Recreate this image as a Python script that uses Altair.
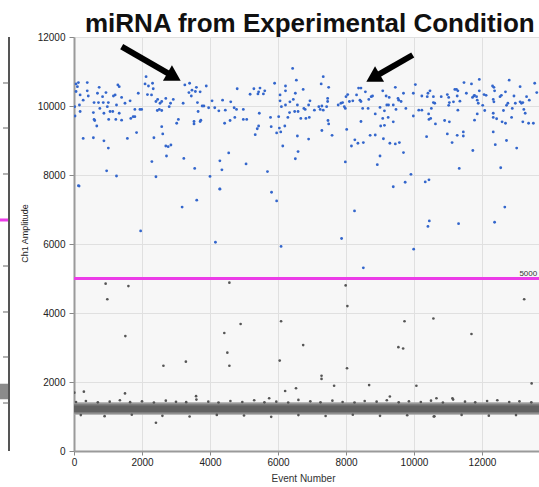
import altair as alt
import pandas as pd

# ---------------- data ----------------
blue_1 = [(60,10640),(130,10680),(100,10560),(60,10420),(180,10320),(270,10170),(160,10030),(20,9980),(30,9710),(180,9840),
          (390,10680),(390,10440),(420,10290),(590,10100),(720,10100),(740,10540),(690,10370),(760,9930),(570,9810),(590,9610),
          (610,9580),(670,9420),(840,10270),(860,10100),(1010,10100),(980,9980),(940,10390),(880,9790),(1060,9840),(1140,9840),
          (1230,9610),(1020,9610),(1160,10290),(1210,10320),(1290,10610),(1330,10560),(1400,10250),(1330,9790),(1250,10030),(1400,9590),
          (1500,10080),(1650,10150),(1670,9640),(1740,9690),(1790,9690),(1890,10370),(1840,9230),(1940,9900),(1990,9900),(1790,9900),
          (270,9060),(570,9080),(880,8990),(1010,8780),(1570,9060),(960,8120),(1250,7970),(130,7690),(2120,10850),(2090,10640),
          (2190,10580),(2310,10660),(2330,10500),(2280,10320),(2160,10330),(2410,10130),(2460,10190),(2530,10080),(2580,10130),(2510,9900),
          (2450,9870),(2580,9870),(2700,10220),(2800,9980),(2840,10080),(2920,10190),(3070,9610),(3020,9500),(2580,9400),(2610,9190),
          (2350,9080),(2700,8840),(2770,8820),(2850,8870),(2720,8550),(3230,8480),(2290,8390),(2410,7950),(3210,10080),(3260,10610),
          (3380,10390)]
blue_2 = [(3400,10660),(3470,10460),(3600,10540),(3570,10420),(3450,10290),(3710,10410),(3890,10580),(3630,10100),(3770,10000),(3820,10000),
          (3650,9840),(3530,9550),(3530,9480),(3730,9590),(3710,9550),(3960,9950),(4060,10150),(4140,9950),(4260,9860),(4370,10170),
          (4450,9880),(4430,9500),(4610,10120),(4590,9580),(4710,9950),(4730,9670),(4800,10500),(4780,9900),(4980,9900),(4980,9610),
          (5080,9610),(5180,10340),(5290,10500),(5430,10410),(5470,10520),(5410,10350),(5570,10350),(5610,10440),(5450,9790),(5430,9420),
          (5390,9340),(5330,9170),(5780,9670),(5800,9400),(5900,10660),(6020,9690),(6040,9360),(6080,9250),(5960,9220),(6060,10320),
          (6060,10150),(6220,10580),(6220,10440),(6100,9980),(6220,10030),(6350,10120),(6450,10190),(6510,10370),(6570,10030),(6430,11090),
          (6540,10750),(6740,10480),(6760,9930),(6590,9840),(6490,9840),(6290,9670),(6340,9810),(6200,9420),(6670,9640),(6820,9640),
          (6800,9900),(6570,9130),(6140,8840),(6590,8680),(6510,8470),(4550,8640),(4290,8410),(4350,8150),(3550,8190),(5060,8320),
          (5690,8100),(4000,7960),(4290,7600)]
blue_3 = [(7330,10850),(7270,10640),(7490,10540),(6940,10150),(6900,10030),(7200,9980),(7240,9900),(7290,10000),(7330,9880),(7430,9980),
          (7460,10220),(7460,10130),(7070,9880),(6920,9670),(7470,9580),(7490,9480),(7290,9290),(7590,9150),(6900,9040),(7770,10030),
          (7850,10080),(7900,10100),(7950,9980),(7980,9930),(8000,10270),(8050,10330),(8100,10130),(8200,10150),(8310,10320),(8370,10520),
          (8440,10520),(8410,10170),(8440,10130),(8490,9930),(8570,10410),(8670,10190),(8740,10270),(8780,10290),(8650,9930),(8440,9550),
          (8860,9770),(9000,9960),(9080,10440),(9130,9860),(9180,10290),(9270,10250),(9390,10030),(9250,10030),(9200,10030),(9450,10540),
          (9550,10170),(9530,10220),(9620,10130),(9690,10370),(9760,9930),(9470,9900),(9080,9640),(9240,9670),(9390,9540),(9130,9440),
          (9020,9420),(8860,9160),(8710,9150),(9100,9050),(8260,9020),(8350,8920),(8510,8940),(8160,8840),(8020,9320),(9290,8920),
          (9450,8900),(9570,8940),(9690,8650),(9000,8550),(8920,8300),(7980,8380),(9980,10370),(10040,10620),(10230,10290),(10140,9880),
          (10230,9880),(9980,9710),(9910,8020),(9740,7790),(9390,7660)]
blue_4 = [(10410,10370),(10470,10440),(10390,10270),(10570,10270),(10570,10100),(10610,10080),(10510,9930),(10430,9770),(10440,9610),(10490,9640),
          (10630,9480),(10370,9110),(10800,10270),(10900,9580),(10980,10330),(11020,10250),(11040,10100),(11020,10020),(11160,10120),(11200,10480),
          (11250,10480),(11290,10440),(11270,10290),(11350,10140),(11290,9880),(11470,10680),(11540,10370),(11690,10640),(11720,10250),(11760,10290),
          (11780,10310),(11840,10270),(11860,10170),(11890,10080),(11920,10770),(11920,10440),(12020,10020),(12060,10330),(12120,10310),(12080,9870),
          (11860,9770),(11780,9590),(11040,9540),(10980,9190),(11120,8940),(11270,9150),(11450,9250),(11450,9130),(11730,8710),(11330,8190),
          (12350,10540),(12310,10580),(12370,10440),(12330,10190),(12350,10120),(12330,9790),(12330,9670),(12430,9630),(12530,10270),(12570,10310),
          (12690,10410),(12590,9540),(12690,9500),(12630,9870),(12720,10020),(12760,10080),(12800,10750),(12890,9930),(12940,10290),(12870,9670),
          (12980,10080),(13120,10560),(13120,10120),(13160,10080),(13200,10100),(13230,9900),(13270,9790),(13390,10170),(13310,10270),(13200,9540),
          (13370,9500),(13510,9500),(13550,10660),(13610,10390),(12330,9250),(12390,8880),(12720,9000),(13020,8780),(12550,8210),(10440,7860),
          (10330,7800)]
blue_low = [(150,7680),(4290,7590),(3180,7070),(3610,7270),(1960,6380),(5810,7500),(5960,7250),(4160,6050),(6090,5930),(8250,6960),
            (7870,6160),(8510,5310),(10450,6670),(10410,6510),(11310,6590),(12370,6630),(12670,7070),(9990,5850)]

gray_scatter = [(930,4850),(1600,4780),(980,4400),(4570,4880),(1510,3330),(4900,3680),(4420,3420),(6090,3760),(4510,2850),(2630,2470),
                (3290,2590),(4570,2470),(6050,2620),(6740,3070),(7990,4800),(8040,4200),(9720,3760),(10570,3840),(9540,3010),(9680,2970),
                (11690,3390),(13240,4400),(8030,2400),(7280,2180),(7280,2090),(290,1720),(1500,1670),(3590,1590),(5740,1530),(6210,1740),
                (6530,1820),(7650,1890),(8680,1910),(10070,1890),(13460,1960),(2410,820),(10580,1000),(9290,1580),(10660,1530),(11130,1530),
                (10,1690)]
band_top_x = [60,350,700,1050,1350,1650,2000,2350,2700,3000,3300,3600,3950,4250,4600,4950,5300,5600,5950,6300,6600,
              6950,7250,7600,7900,8250,8550,8900,9200,9550,9850,10200,10500,10850,11150,11500,11800,12150,12450,12800,13100,13450]
band_top_y = [1420,1450,1410,1430,1470,1415,1440,1405,1460,1425,1415,1490,1430,1405,1450,1420,1470,1410,1430,1405,1480,
              1440,1410,1460,1420,1405,1450,1430,1470,1410,1440,1420,1460,1405,1490,1430,1410,1450,1470,1420,1440,1410]
band_bot_x = [200,900,1700,2600,3400,4200,5000,5800,6600,7400,8200,9000,9800,10600,11400,12200,13000]
band_bot_y = [1040,1010,1050,1020,1000,1045,1030,990,1040,1015,1050,1020,1035,1005,1045,1025,1040]

band_outer = (1050, 1410)
band_mid = (1090, 1370)
band_core = (1130, 1320)

threshold = 5000
threshold_label = "5000"
x_ticks = [0, 2000, 4000, 6000, 8000, 10000, 12000]
y_ticks = [0, 2000, 4000, 6000, 8000, 10000, 12000]
title_text = "miRNA from Experimental Condition"

arrow_tails = [(1403, 11719), (9962, 11478)]
arrow_ends = [(2832, 10907), (8903, 10878)]
arrow_tips = [(3138, 10733), (8597, 10704)]
arrow_angles = [30, 150]

# neighbouring panel fragment (left edge)
left_ticks = [10667, 9362, 8029, 6696, 5362, 4029, 2725, 1391]
left_threshold = 6696
left_band = (1500, 1950)

X_MAX = 13676
Y_MAX = 12000

BLUE = "#3366cc"
GRAY = "#555555"
MAGENTA = "#ec3ce8"

# ---------------- frames ----------------
blue_df = pd.DataFrame(blue_1 + blue_2 + blue_3 + blue_4 + blue_low, columns=["x", "y"])
gray_df = pd.DataFrame(gray_scatter + list(zip(band_top_x, band_top_y)) + list(zip(band_bot_x, band_bot_y)),
                       columns=["x", "y"])
band_df = pd.DataFrame({"x": [0, 0, 0], "x2": [X_MAX] * 3,
                        "y": [band_outer[0], band_mid[0], band_core[0]],
                        "y2": [band_outer[1], band_mid[1], band_core[1]],
                        "lvl": ["outer", "mid", "core"]})
arrow_df = pd.DataFrame({"x": [t[0] for t in arrow_tails], "y": [t[1] for t in arrow_tails],
                         "x2": [e[0] for e in arrow_ends], "y2": [e[1] for e in arrow_ends]})
head_df = pd.DataFrame({"x": [t[0] for t in arrow_tips], "y": [t[1] for t in arrow_tips], "a": arrow_angles})

xs = alt.Scale(domain=[0, X_MAX], nice=False, zero=False)
ys = alt.Scale(domain=[0, Y_MAX], nice=False, zero=False)

x_axis = alt.Axis(values=x_ticks, title="Event Number", grid=True, gridColor="#e0e0e0",
                  domainColor="#9a9a9a", domainWidth=2, tickColor="#888", tickSize=4,
                  labelFont="Liberation Sans", labelFontSize=10, labelColor="#222", labelPadding=2,
                  labelFlush=False, format="d",
                  titleFont="Liberation Sans", titleFontSize=10, titleFontWeight="normal",
                  titleColor="#333", titleX=229, titleY=27, titleBaseline="middle")
y_axis = alt.Axis(values=y_ticks, title="Ch1 Amplitude", grid=True, gridColor="#e0e0e0",
                  domainColor="#9a9a9a", domainWidth=2, tickColor="#888", tickSize=5,
                  labelFont="Liberation Sans", labelFontSize=10, labelColor="#222", labelPadding=4,
                  labelFlush=False, format="d",
                  titleFont="Liberation Sans", titleFontSize=9, titleFontWeight="normal",
                  titleColor="#222", titleX=-50, titleY=196, titleBaseline="middle", titleAngle=270)


def X(field="x"):
    return alt.X(f"{field}:Q", scale=xs, axis=x_axis)


def Y(field="y"):
    return alt.Y(f"{field}:Q", scale=ys, axis=y_axis)


band = alt.Chart(band_df).mark_rect().encode(
    x=X(), x2="x2:Q", y=Y(), y2="y2:Q",
    color=alt.Color("lvl:N", scale=alt.Scale(domain=["outer", "mid", "core"],
                                             range=["#a4a4a4", "#7e7e7e", "#626262"]), legend=None),
    order=alt.Order("y:Q"),
)

gray_pts = alt.Chart(gray_df).mark_circle(size=7, color=GRAY, opacity=1, clip=True).encode(x=X(), y=Y())
blue_pts = alt.Chart(blue_df).mark_circle(size=8, color=BLUE, opacity=1, clip=True).encode(x=X(), y=Y())

thr = alt.Chart(pd.DataFrame({"y": [threshold]})).mark_rule(color=MAGENTA, strokeWidth=3).encode(y=Y())

thr_label = alt.Chart(pd.DataFrame({"x": [13100], "y": [threshold], "t": [threshold_label]})).mark_text(
    align="left", baseline="bottom", dy=-1, fontSize=8, font="Liberation Sans", color="#333").encode(
    x=X(), y=Y(), text="t:N")

arrows = alt.Chart(arrow_df).mark_rule(color="black", strokeWidth=6, strokeCap="butt").encode(
    x=X(), y=Y(), x2="x2:Q", y2="y2:Q")

heads = alt.Chart(head_df).mark_point(shape="M 0 0 L -1.7 -1 L -1.7 1 Z", filled=True, color="black",
                                      opacity=1, size=324, strokeWidth=0).encode(
    x=X(), y=Y(), angle=alt.Angle("a:Q", scale=None))

title = alt.Chart(pd.DataFrame({"t": [title_text]})).mark_text(
    align="left", baseline="alphabetic", fontSize=26, fontWeight="bold", font="Liberation Sans",
    color="#111").encode(x=alt.value(11), y=alt.value(-5), text="t:N")

# left fragment of neighbouring panel
left_border = alt.Chart(pd.DataFrame({"y": [0], "y2": [Y_MAX]})).mark_rule(color="#555", strokeWidth=2).encode(
    x=alt.value(-65), y=Y(), y2="y2:Q")
left_tick = alt.Chart(pd.DataFrame({"y": left_ticks})).mark_rule(color="#666", strokeWidth=1).encode(
    x=alt.value(-71), x2=alt.value(-65), y=Y())
left_thr = alt.Chart(pd.DataFrame({"y": [left_threshold]})).mark_rule(color=MAGENTA, strokeWidth=3).encode(
    x=alt.value(-74), x2=alt.value(-66), y=Y())
left_band_r = alt.Chart(pd.DataFrame({"y": [left_band[0]], "y2": [left_band[1]]})).mark_rect(
    color="#777", opacity=0.85).encode(
    x=alt.value(-74), x2=alt.value(-66), y=Y(), y2="y2:Q")

chart = alt.layer(
    band, gray_pts, blue_pts, thr, thr_label, arrows, heads, title,
    left_border, left_tick, left_thr, left_band_r,
).properties(
    width=465, height=414,
    padding={"left": 74, "top": 37, "right": 0, "bottom": 36},
    autosize=alt.AutoSizeParams(type="none"),
    background="white",
).configure_view(fill="#f7f7f7", strokeWidth=0)

chart.save("out.html", embed_options={"renderer": "svg", "actions": False})
